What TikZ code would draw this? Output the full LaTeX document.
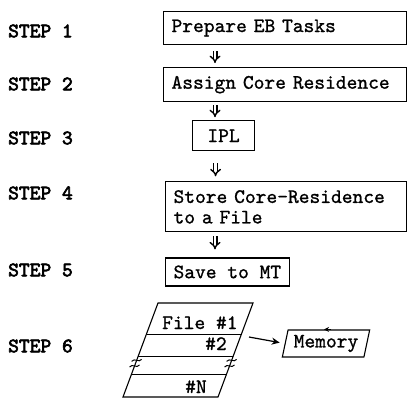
\documentclass[tikz,border=0pt]{standalone}
\usepackage{fontspec}
\setmonofont{lmmono10-regular.otf}[FakeBold=1]
\newfontfamily\stepfont{lmmono10-regular.otf}[FakeBold=3]
\usetikzlibrary{arrows.meta, positioning, shapes.geometric, calc}

\begin{document}
\begin{tikzpicture}[
        x=1pt, y=-1pt,
        every node/.style={font=\ttfamily\fontsize{20.5}{20.5}\selectfont},
        stepbox/.style={rectangle, draw, line width=1.1pt, anchor=north west, inner xsep=8pt, inner ysep=0pt},
        widebox/.style={stepbox, text width=227pt, align=left},
        steplabel/.style={anchor=west, inner sep=0pt, font=\stepfont\fontsize{20.5}{20.5}\selectfont},
        entry/.style={anchor=base west, inner sep=0pt},
        flow/.style={draw, double, double distance=2.2pt, line width=1.4pt, -{Implies[scale=1.3]}},
        pointer/.style={draw, line width=1.2pt, -{Stealth[length=8pt, width=7pt]}, shorten >=5pt},
        node distance=22pt
        ]

        \useasboundingbox (0,0) rectangle (407,399);

        % Step labels
        \node[steplabel] (s1) at (8,31) {STEP 1};
        \node[steplabel] (s2) at (8,84) {STEP 2};
        \node[steplabel] (s3) at (8,138) {STEP 3};
        \node[steplabel] (s4) at (8,193) {STEP 4};
        \node[steplabel] (s5) at (8,270) {STEP 5};
        \node[steplabel] (s6) at (8,346) {STEP 6};

        % Boxes
        \node[widebox, minimum height=33pt] (prep) at (163,11) {Prepare EB Tasks};
        \node[widebox, minimum height=34pt, below=22pt of prep.south west, anchor=north west] (assign) {Assign Core Residence};
        \node[stepbox, minimum width=62pt, minimum height=30pt, below=18pt of assign.south west, anchor=north west, xshift=29pt] (ipl) {IPL};
        \node[widebox, text width=225pt, minimum height=50pt, below=30pt of ipl.south west, anchor=north west, xshift=-27pt] (store) {Store Core-Residence\\to a File};
        \node[stepbox, minimum width=123pt, minimum height=28pt, below=25pt of store.south west, anchor=north west] (save) {Save to MT};

        % Arrows between steps
        \draw[flow, shorten <=6pt, shorten >=4pt] ([xshift=52pt]prep.south west) -- ([xshift=52pt]assign.north west);
        \draw[flow, shorten <=3pt, shorten >=3pt] ([xshift=52pt]assign.south west) -- ([xshift=52pt]assign.south west |- ipl.north);
        \draw[flow, shorten <=12pt, shorten >=5pt] ([xshift=-8pt]ipl.south) -- ([xshift=-8pt]ipl.south |- store.north);
        \draw[flow, shorten <=4pt, shorten >=8pt] ([xshift=50pt]store.south west) -- ([xshift=50pt]store.south west |- save.north);

        % File stack
        \coordinate (stl) at (158,303);
        \coordinate (str) at (253,303);
        \coordinate (sbr) at (218,397);
        \coordinate (sbl) at (123,397);
        \draw[line width=1.1pt] (stl) -- (str) -- (sbr) -- (sbl) -- cycle;
        \foreach \f in {0.33, 0.564, 0.755}
            \draw[line width=0.9pt] ($(stl)!\f!(sbl)$) -- ($(str)!\f!(sbr)$);
        \foreach \a/\b in {stl/sbl, str/sbr}
            \foreach \f in {0.61, 0.67}
                \draw[line width=1pt] ($(\a)!\f!(\b)+(-5,1)$) .. controls +(3,-4) and +(-3,4) .. ++(10,-2);
        \node[entry] (file1) at (162,329) {File \#1};
        \node[entry] (file2) at (205,350) {\#2};
        \node[entry] (filen) at (185,393) {\#N};

        % Memory
        \node[trapezium, draw, line width=1.1pt, trapezium left angle=73, trapezium right angle=107, trapezium stretches=true, minimum width=88pt, minimum height=27pt, inner xsep=2.5pt, inner ysep=0pt] (mem) at (326,343.5) {Memory};
        \draw[-{Stealth[length=5pt, width=5pt]}, line width=1pt] ([xshift=5pt]mem.north) -- ([xshift=-2pt]mem.north);
        \coordinate (stackout) at (249,337);
        \draw[pointer] (stackout) -- (mem.west);

    \end{tikzpicture}
\end{document}
